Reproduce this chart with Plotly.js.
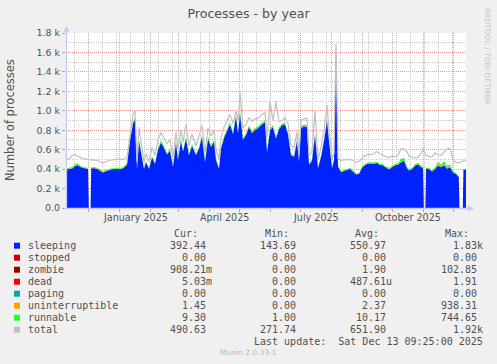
<!DOCTYPE html>
<html><head><meta charset="utf-8">
<script src="https://cdn.plot.ly/plotly-3.0.1.min.js"></script>
<style>html,body{margin:0;padding:0;background:#f0f0f0;overflow:hidden}#chart{width:497px;height:364px}</style>
</head><body><div id="chart"></div>
<script>
// ---- time base (400 days ending at last update) ----
const startTime = Date.UTC(2024, 10, 8, 9, 25);
const endTime = Date.UTC(2025, 11, 13, 9, 25);

// day offsets of the samples from startTime
const dayOffsets = [
  0,3,6,9,12,15,18,21,22,22.8,
  24.6,25.2,28,31,34,37,40,43,46,49,
  52,55,58,61,64,67,69,71,73,76,
  78,80,83,86,89,92,95,98,101,104,
  107,110,112,115,117,120,123,126,130,133,
  136,139,142,145,148,150,153,155,158,161,
  164,167,170,172,174,177,180,183,186,189,
  192,196,199,201,204,207,210,213,216,219,
  222,225,228,231,233,235,238,241,243,246,
  249,252,255,258,261,263,266,268,270,272,
  275,278,281,284,287,290,293,296,299,302,
  305,308,311,314,317,320,323,326,329,332,
  335,338,341,343,346,349,352,355,357,357.8,
  359.4,360,363,366,369,372,375,378,381,384,
  387,390,392.8,393.5,396.8,397.4,400
];

const sleeping = [
  395,400,405,430,440,418,408,402,400,0,
  0,408,410,402,380,362,378,392,398,400,
  402,398,415,445,690,870,905,400,690,520,
  400,470,405,520,455,600,670,620,550,590,
  425,670,495,690,580,710,545,640,545,610,
  730,475,710,630,680,495,405,610,720,790,
  860,760,940,770,970,700,750,830,770,800,
  820,860,880,575,800,830,715,810,850,860,
  760,545,525,690,475,820,840,830,445,485,
  750,410,525,690,900,690,410,495,1650,425,
  370,380,390,402,375,345,350,412,442,455,
  458,455,462,442,438,412,395,420,440,445,
  470,485,410,385,400,435,450,420,410,0,
  0,400,400,375,400,435,420,440,405,420,
  365,350,320,0,0,392,392
];

const zombie = [
  1,1,2,3,2,1,1,1,1,0,
  0,1,1,2,5,6,3,2,1,1,
  1,2,2,2,2,2,2,1,2,1,
  1,1,1,1,1,1,2,1,1,1,
  1,2,1,2,1,2,1,1,1,1,
  2,1,2,1,2,1,1,1,2,2,
  2,2,2,2,2,2,2,2,2,2,
  2,2,2,1,2,2,2,2,2,2,
  2,1,1,1,1,2,2,2,1,1,
  2,1,1,1,2,1,1,1,2,1,
  1,1,1,1,1,1,1,1,1,1,
  1,1,1,1,1,2,4,2,1,1,
  1,1,1,1,1,1,1,1,1,0,
  0,1,1,1,1,2,1,2,1,2,
  1,1,1,0,0,1,1
];

const uninterruptible = [
  2,2,5,8,6,3,2,2,2,0,
  0,2,2,3,4,4,3,2,2,2,
  2,2,3,3,3,3,3,2,3,2,
  2,2,2,2,2,2,3,2,2,2,
  2,3,2,3,2,3,2,2,2,2,
  3,2,3,2,3,2,2,2,3,3,
  3,3,3,3,3,3,3,3,3,3,
  3,3,3,2,3,3,3,3,3,3,
  3,2,2,2,2,3,3,3,2,2,
  3,2,2,2,3,2,2,2,3,2,
  2,2,2,2,2,2,2,2,2,2,
  2,2,2,2,2,3,5,3,2,2,
  3,3,2,2,2,2,2,2,2,0,
  0,2,2,2,3,15,8,12,8,10,
  3,2,2,0,0,2,1.5
];

const runnable = [
  8,8,10,12,10,8,8,8,8,0,
  0,8,8,8,8,8,8,8,8,8,
  8,8,10,12,12,15,15,10,12,10,
  8,10,8,10,10,15,20,15,10,15,
  8,20,10,15,10,15,10,15,10,12,
  15,10,15,12,15,10,8,12,15,15,
  15,15,15,15,20,15,15,15,15,15,
  15,15,15,10,15,15,15,15,15,15,
  12,10,10,12,10,15,15,15,10,10,
  12,8,10,12,15,12,8,10,15,8,
  8,8,8,10,8,8,8,10,10,10,
  10,10,10,10,10,10,10,10,10,12,
  30,28,12,10,10,10,12,12,12,0,
  0,12,12,10,15,20,15,30,20,15,
  10,10,8,0,0,9,9
];

const total = [
  498,505,540,548,530,518,505,500,498,497,
  496,496,494,490,478,462,478,490,494,498,
  503,500,505,525,770,965,1008,480,830,600,
  470,560,480,620,540,700,775,720,660,700,
  520,780,600,800,680,860,640,760,640,740,
  850,570,820,740,800,600,500,720,830,900,
  960,870,1000,900,1190,820,860,930,890,920,
  920,960,985,720,1100,900,1090,890,900,930,
  870,650,620,780,560,900,920,920,540,580,
  1000,500,620,800,1060,800,500,560,1690,510,
  490,495,500,500,488,470,478,510,540,550,
  550,560,580,555,545,525,520,530,530,540,
  610,605,580,530,520,515,520,560,615,600,
  560,540,530,525,570,545,540,580,610,615,
  500,470,465,468,480,485,490
];

// legend table
const legendNames = ['sleeping','stopped','zombie','dead','paging','uninterruptible','runnable','total'];
const legendColors = ['#0022ff','#cc0000','#990000','#ff0000','#00aaaa','#ffa500','#22ff22','#c0c0c0'];
const curVals = ['392.44','0.00','908.21m','5.03m','0.00','1.45','9.30','490.63'];
const minVals = ['143.69','0.00','0.00','0.00','0.00','0.00','1.00','271.74'];
const avgVals = ['550.97','0.00','1.90','487.61u','0.00','2.37','10.17','651.90'];
const maxVals = ['1.83k','0.00','102.85','1.91','0.00','938.31','744.65','1.92k'];

// axis labels
const yTickVals = [0,200,400,600,800,1000,1200,1400,1600,1800];
const yTickText = ['0.0','0.2 k','0.4 k','0.6 k','0.8 k','1.0 k','1.2 k','1.4 k','1.6 k','1.8 k'];
const monthLabelDates = ['2025-01-16 12:00','2025-04-16','2025-07-16 12:00','2025-10-16 12:00'];
const monthLabels = ['January 2025','April 2025','July 2025','October 2025'];

// ---- helpers ----
function fmt(ms) { return new Date(ms).toISOString().slice(0,19).replace('T',' '); }
const xDates = dayOffsets.map(d => fmt(startTime + d * 86400000));

const L = 66, R = 466, T = 33, B = 208;
const px = x => (x - L) / (R - L);
const py = y => (B - y) / (B - T);

const textColor = '#505050';
const mono = 'DejaVu Sans Mono, monospace';

function area(name, y, color) {
  return { type:'scatter', mode:'lines', name, x:xDates, y, stackgroup:'procs',
    line:{width:0, color, shape:'linear'}, fillcolor:color, hoverinfo:'skip' };
}

const traces = [
  area('sleeping', sleeping, '#0022ff'),
  area('zombie', zombie, '#990000'),
  area('uninterruptible', uninterruptible, '#ffa500'),
  area('runnable', runnable, '#22ff22'),
  { type:'scatter', mode:'lines', name:'total', x:xDates, y:total,
    line:{width:1.2, color:'#c0c0c0'}, hoverinfo:'skip' }
];

const annotations = [];
const shapes = [];

// month labels
monthLabelDates.forEach((d, i) => annotations.push({
  x:d, xref:'x', y:py(217), yref:'paper', text:monthLabels[i], showarrow:false,
  xanchor:'center', yanchor:'middle', font:{size:9.6, color:textColor}, borderpad:0
}));

// y-axis title
annotations.push({ x:px(10), xref:'paper', y:py(120), yref:'paper', text:'Number of processes',
  textangle:-90, showarrow:false, xanchor:'center', yanchor:'middle',
  font:{size:11.5, color:textColor}, borderpad:0 });

// watermark
annotations.push({ x:px(488), xref:'paper', y:py(56), yref:'paper', text:'RRDTOOL / TOBI OETIKER',
  textangle:90, showarrow:false, xanchor:'center', yanchor:'middle',
  font:{size:7.5, color:'#c4c4c4'}, borderpad:0 });

// legend header
[['Cur:',198.5],['Min:',289.5],['Avg:',379.5],['Max:',469.5]].forEach(h => annotations.push({
  x:px(h[1]), xref:'paper', y:py(233.3), yref:'paper', text:h[0], showarrow:false,
  xanchor:'right', yanchor:'middle', font:{family:mono, size:10, color:textColor}, borderpad:0
}));

function withUnit(s) { return /[0-9]$/.test(s) ? s + '\u00a0' : s; }

legendNames.forEach((n, i) => {
  const yc = 245.7 + 12 * i;
  shapes.push({ type:'rect', xref:'paper', yref:'paper', x0:px(14), x1:px(20), y0:py(yc-3), y1:py(yc+3),
    fillcolor:legendColors[i], line:{width:0} });
  annotations.push({ x:px(26.5), xref:'paper', y:py(yc), yref:'paper', text:n, showarrow:false,
    xanchor:'left', yanchor:'middle', font:{family:mono, size:10, color:textColor}, borderpad:0 });
  [[curVals,212.5],[minVals,302.7],[avgVals,393.3],[maxVals,483.5]].forEach(c => annotations.push({
    x:px(c[1]), xref:'paper', y:py(yc), yref:'paper', text:withUnit(c[0][i]), showarrow:false,
    xanchor:'right', yanchor:'middle', font:{family:mono, size:10, color:textColor}, borderpad:0
  }));
});

annotations.push({ x:px(484.5), xref:'paper', y:py(341.7), yref:'paper',
  text:'Last update:\u00a0 Sat Dec 13 09:25:00 2025', showarrow:false, xanchor:'right', yanchor:'middle',
  font:{family:mono, size:10, color:textColor}, borderpad:0 });

annotations.push({ x:px(248.7), xref:'paper', y:py(352.7), yref:'paper', text:'Munin 2.0.33-1',
  showarrow:false, xanchor:'center', yanchor:'middle', font:{size:7.5, color:'#b8b8b8'}, borderpad:0 });

// axis lines with arrows
const axisColor = '#c6c8f0';
shapes.push({ type:'line', xref:'paper', yref:'paper', x0:px(66.5), x1:px(66.5), y0:py(208.5), y1:py(29),
  line:{color:axisColor, width:1.3}, layer:'above' });
shapes.push({ type:'line', xref:'paper', yref:'paper', x0:px(66), x1:px(470), y0:py(208.5), y1:py(208.5),
  line:{color:axisColor, width:1.3}, layer:'above' });
shapes.push({ type:'path', xref:'paper', yref:'paper',
  path:`M ${px(63.5)} ${py(31.5)} L ${px(69.5)} ${py(31.5)} L ${px(66.5)} ${py(26)} Z`,
  fillcolor:axisColor, line:{width:0}, layer:'above' });
shapes.push({ type:'path', xref:'paper', yref:'paper',
  path:`M ${px(468)} ${py(205.5)} L ${px(468)} ${py(211.5)} L ${px(474)} ${py(208.5)} Z`,
  fillcolor:axisColor, line:{width:0}, layer:'above' });

const layout = {
  width:497, height:364,
  margin:{l:L, r:497-R, t:T, b:364-B, pad:0},
  paper_bgcolor:'#f0f0f0', plot_bgcolor:'#ffffff',
  font:{family:'DejaVu Sans, sans-serif', color:textColor},
  showlegend:false, hovermode:false,
  title:{ text:'Processes - by year', x:0.5, xanchor:'center', xref:'container',
    y:1 - 14/364, yref:'container', yanchor:'middle', font:{size:12.6, color:textColor} },
  xaxis:{ type:'date', range:[fmt(startTime), fmt(endTime)], dtick:'M1', tick0:'2024-12-01',
    showticklabels:false, ticks:'outside', ticklen:3, tickcolor:'#e89090',
    showgrid:true, gridcolor:'#ec9a9a', griddash:'1px,1px', gridwidth:1,
    minor:{ dtick:14*86400000, tick0:'2024-11-17', showgrid:true, gridcolor:'#c8c8c8',
      griddash:'1px,1px', gridwidth:1, ticks:'' },
    zeroline:false, showline:false, fixedrange:true },
  yaxis:{ range:[0,1800], tickvals:yTickVals, ticktext:yTickText, ticks:'outside', ticklen:3,
    tickcolor:'#a8a8c8', tickfont:{size:9.5, color:textColor},
    showgrid:true, gridcolor:'#ec9a9a', griddash:'1px,1px', gridwidth:1,
    minor:{ dtick:100, showgrid:true, gridcolor:'#c8c8c8', griddash:'1px,1px', gridwidth:1, ticks:'' },
    zeroline:false, showline:false, fixedrange:true },
  annotations, shapes
};

Plotly.newPlot('chart', traces, layout, {staticPlot:true, displayModeBar:false});
</script></body></html>
